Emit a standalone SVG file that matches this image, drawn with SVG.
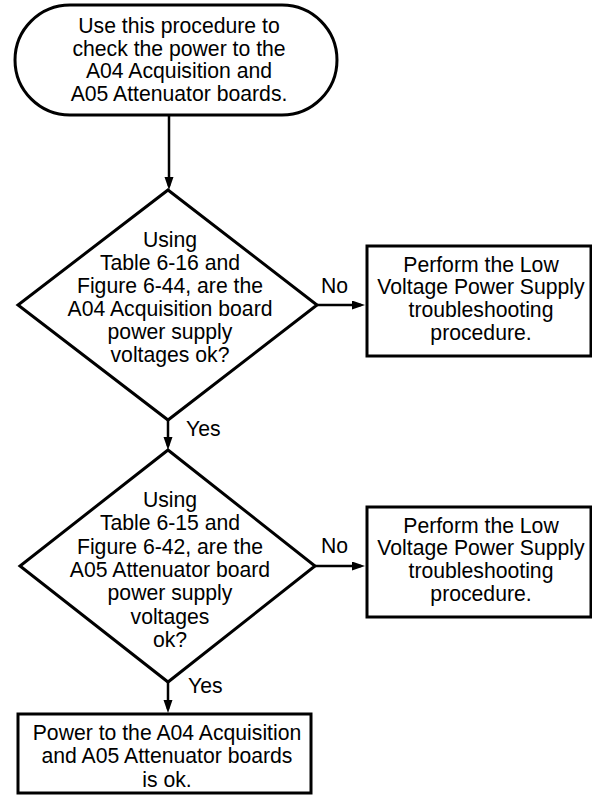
<svg xmlns="http://www.w3.org/2000/svg" width="592" height="796" viewBox="0 0 592 796">
<style>
.shape{fill:#fff;stroke:#000;stroke-width:3;stroke-linejoin:miter}
.conn{stroke:#000;stroke-width:2.5;fill:none}
text{font-family:"Liberation Sans",Arial,Helvetica,sans-serif;font-size:21.2px;fill:#000}
.c{text-anchor:middle}
</style>
<defs>
<marker id="arr" markerUnits="userSpaceOnUse" markerWidth="13" markerHeight="10" refX="9" refY="4.5" orient="auto">
<path d="M0,0 L13,4.5 L0,9 Z" fill="#000"/>
</marker>
</defs>
<rect width="592" height="796" fill="#fff"/>
<g id="start">
<path class="shape" d="M70,5 H282 A55,55 0 0 1 282,115 H70 A55,55 0 0 1 70,5 Z"/>
<text class="c" x="179" y="33">Use this procedure to</text>
<text class="c" x="179" y="55.5">check the power to the</text>
<text class="c" x="179" y="78">A04 Acquisition and</text>
<text class="c" x="179" y="100.5">A05 Attenuator boards.</text>
</g>
<g id="decision1">
<path class="shape" d="M168,190 L317,305 L168,420 L18,305 Z"/>
<text class="c" x="170" y="247">Using</text>
<text class="c" x="170" y="270">Table 6-16 and</text>
<text class="c" x="170" y="293">Figure 6-44, are the</text>
<text class="c" x="170" y="316">A04 Acquisition board</text>
<text class="c" x="170" y="339">power supply</text>
<text class="c" x="170" y="362">voltages ok?</text>
</g>
<g id="lvps1">
<rect class="shape" x="367" y="246" width="224" height="110"/>
<text class="c" x="481" y="272">Perform the Low</text>
<text class="c" x="481" y="294">Voltage Power Supply</text>
<text class="c" x="481" y="317">troubleshooting</text>
<text class="c" x="481" y="340">procedure.</text>
</g>
<g id="decision2">
<path class="shape" d="M168,450 L315,566 L168,682 L20,566 Z"/>
<text class="c" x="170" y="507">Using</text>
<text class="c" x="170" y="530">Table 6-15 and</text>
<text class="c" x="170" y="554">Figure 6-42, are the</text>
<text class="c" x="170" y="577">A05 Attenuator board</text>
<text class="c" x="170" y="600">power supply</text>
<text class="c" x="170" y="624">voltages</text>
<text class="c" x="170" y="647">ok?</text>
</g>
<g id="lvps2">
<rect class="shape" x="367" y="507" width="224" height="110"/>
<text class="c" x="481" y="533">Perform the Low</text>
<text class="c" x="481" y="555">Voltage Power Supply</text>
<text class="c" x="481" y="578">troubleshooting</text>
<text class="c" x="481" y="601">procedure.</text>
</g>
<g id="ok">
<rect class="shape" x="18" y="714" width="293" height="79"/>
<text class="c" x="167" y="740">Power to the A04 Acquisition</text>
<text class="c" x="167" y="763">and A05 Attenuator boards</text>
<text class="c" x="167" y="787">is ok.</text>
</g>
<g id="connectors">
<line class="conn" x1="169" y1="115" x2="169" y2="186" marker-end="url(#arr)"/>
<line class="conn" x1="317" y1="305" x2="361" y2="305" marker-end="url(#arr)"/>
<line class="conn" x1="168" y1="420" x2="168" y2="446" marker-end="url(#arr)"/>
<line class="conn" x1="315" y1="566" x2="361" y2="566" marker-end="url(#arr)"/>
<line class="conn" x1="168" y1="682" x2="168" y2="709" marker-end="url(#arr)"/>
<text x="321" y="293">No</text>
<text x="321" y="553">No</text>
<text x="186" y="436">Yes</text>
<text x="188" y="693">Yes</text>
</g>
</svg>
